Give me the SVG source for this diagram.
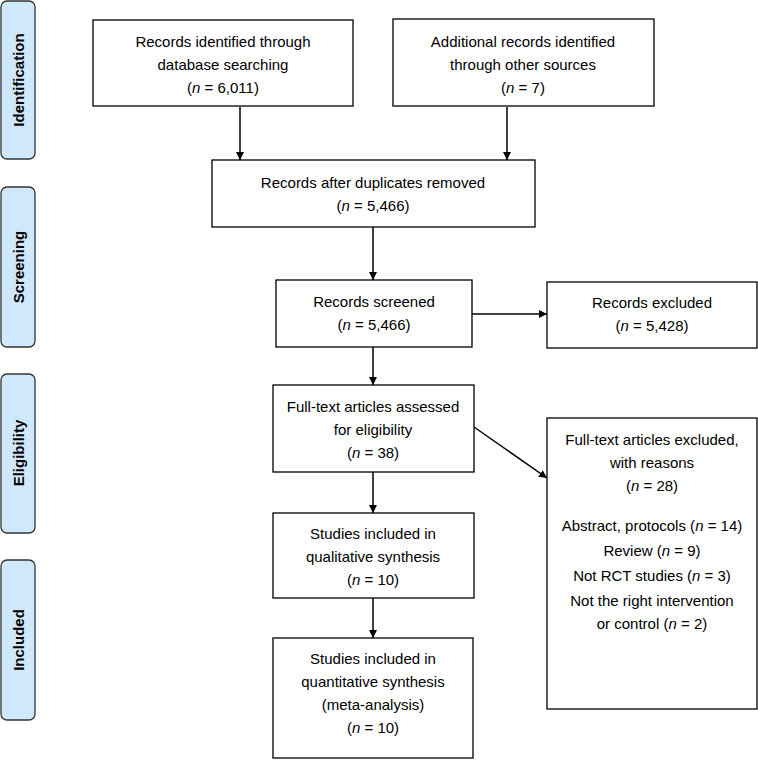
<svg xmlns="http://www.w3.org/2000/svg" width="758" height="760" viewBox="0 0 758 760">
<style>
.box{fill:#fff;stroke:#000;stroke-width:1.3}
.side{fill:#cfe8fb;stroke:#333;stroke-width:1.3}
.t{font-family:"Liberation Sans",Arial,sans-serif;font-size:15px;fill:#000;text-anchor:middle}
.s{font-family:"Liberation Sans",Arial,sans-serif;font-size:15px;font-weight:bold;fill:#000;text-anchor:middle}
.c{stroke:#000;stroke-width:1.5;fill:none;marker-end:url(#ah)}
</style>
<defs>
<marker id="ah" viewBox="0 0 10 10" refX="10" refY="5" markerWidth="8" markerHeight="8" markerUnits="userSpaceOnUse" orient="auto">
<path d="M0,0 L10,5 L0,10 Z" fill="#000"/>
</marker>
</defs>
<rect width="758" height="760" fill="#fff"/>
<g id="phase-identification"><rect class="side" x="1" y="1" width="34" height="158" rx="6"/><text class="s" transform="translate(24,80) rotate(-90)">Identification</text></g>
<g id="phase-screening"><rect class="side" x="1" y="187" width="34" height="160" rx="6"/><text class="s" transform="translate(24,267) rotate(-90)">Screening</text></g>
<g id="phase-eligibility"><rect class="side" x="1" y="374" width="34" height="159" rx="6"/><text class="s" transform="translate(24,453) rotate(-90)">Eligibility</text></g>
<g id="phase-included"><rect class="side" x="1" y="560" width="34" height="160" rx="6"/><text class="s" transform="translate(24,640) rotate(-90)">Included</text></g>

<g id="connectors">
<line class="c" x1="240" y1="107" x2="240" y2="160"/>
<line class="c" x1="507" y1="107" x2="507" y2="160"/>
<line class="c" x1="373" y1="227" x2="373" y2="280"/>
<line class="c" x1="472" y1="314" x2="547" y2="314"/>
<line class="c" x1="373" y1="347" x2="373" y2="385"/>
<line class="c" x1="474" y1="427" x2="547" y2="478"/>
<line class="c" x1="373" y1="472" x2="373" y2="513"/>
<line class="c" x1="373" y1="598" x2="373" y2="638"/>
</g>

<g id="db-records"><rect class="box" x="93" y="20" width="260" height="86"/>
<text class="t" x="223" y="47">Records identified through</text>
<text class="t" x="223" y="70">database searching</text>
<text class="t" x="223" y="93">(<tspan font-style="italic">n</tspan> = 6,011)</text></g>

<g id="other-records"><rect class="box" x="393" y="19" width="261" height="87"/>
<text class="t" x="523" y="47">Additional records identified</text>
<text class="t" x="523" y="70">through other sources</text>
<text class="t" x="523" y="93">(<tspan font-style="italic">n</tspan> = 7)</text></g>

<g id="deduplicated"><rect class="box" x="212" y="160" width="323" height="67"/>
<text class="t" x="373" y="188">Records after duplicates removed</text>
<text class="t" x="373" y="211">(<tspan font-style="italic">n</tspan> = 5,466)</text></g>

<g id="screened"><rect class="box" x="276" y="280" width="196" height="67"/>
<text class="t" x="374" y="307">Records screened</text>
<text class="t" x="374" y="330">(<tspan font-style="italic">n</tspan> = 5,466)</text></g>

<g id="excluded"><rect class="box" x="547" y="282" width="210" height="66"/>
<text class="t" x="652" y="308">Records excluded</text>
<text class="t" x="652" y="331">(<tspan font-style="italic">n</tspan> = 5,428)</text></g>

<g id="fulltext"><rect class="box" x="273" y="385" width="201" height="87"/>
<text class="t" x="373" y="412">Full-text articles assessed</text>
<text class="t" x="373" y="435">for eligibility</text>
<text class="t" x="373" y="458">(<tspan font-style="italic">n</tspan> = 38)</text></g>

<g id="fulltext-excluded"><rect class="box" x="547" y="418" width="210" height="291"/>
<text class="t" x="652" y="445">Full-text articles excluded,</text>
<text class="t" x="652" y="468">with reasons</text>
<text class="t" x="652" y="491">(<tspan font-style="italic">n</tspan> = 28)</text>
<text class="t" x="652" y="531">Abstract, protocols (<tspan font-style="italic">n</tspan> = 14)</text>
<text class="t" x="652" y="556">Review (<tspan font-style="italic">n</tspan> = 9)</text>
<text class="t" x="652" y="581">Not RCT studies (<tspan font-style="italic">n</tspan> = 3)</text>
<text class="t" x="652" y="606">Not the right intervention</text>
<text class="t" x="652" y="629">or control (<tspan font-style="italic">n</tspan> = 2)</text></g>

<g id="qualitative"><rect class="box" x="273" y="513" width="201" height="85"/>
<text class="t" x="373" y="539">Studies included in</text>
<text class="t" x="373" y="562">qualitative synthesis</text>
<text class="t" x="373" y="585">(<tspan font-style="italic">n</tspan> = 10)</text></g>

<g id="quantitative"><rect class="box" x="273" y="638" width="200" height="120"/>
<text class="t" x="373" y="664">Studies included in</text>
<text class="t" x="373" y="687">quantitative synthesis</text>
<text class="t" x="373" y="710">(meta-analysis)</text>
<text class="t" x="373" y="733">(<tspan font-style="italic">n</tspan> = 10)</text></g>
</svg>
